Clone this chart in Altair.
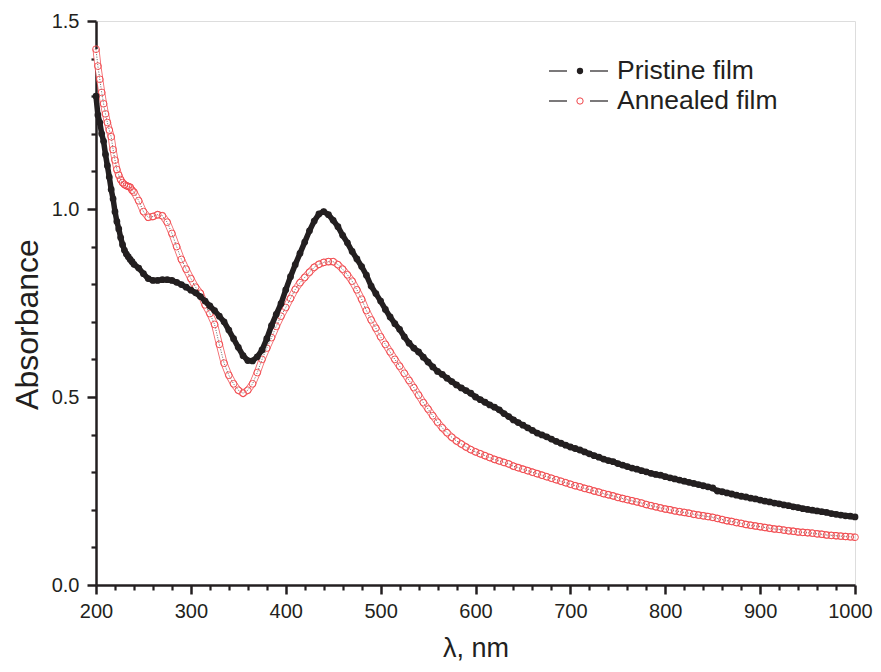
import altair as alt
import pandas as pd

# ---------------- data ----------------
wl_pristine = [200, 202, 204, 206, 208, 210, 212, 214, 216, 218, 220, 222, 224, 226, 228, 230, 232, 234, 236, 238,
               240, 245, 250, 255, 260, 265, 270, 275, 280, 285, 290, 295, 300, 305, 310, 315, 320, 325, 330, 335,
               340, 345, 350, 355, 360, 365, 370, 375, 380, 385, 390, 395, 400, 405, 410, 415, 420, 425, 430, 435,
               440, 445, 450, 455, 460, 465, 470, 475, 480, 485, 490, 495, 500, 505, 510, 515, 520, 525, 530, 535,
               540, 545, 550, 555, 560, 565, 570, 575, 580, 585, 590, 595, 600, 605, 610, 615, 620, 625, 630, 635,
               640, 645, 650, 655, 660, 665, 670, 675, 680, 685, 690, 695, 700, 705, 710, 715, 720, 725, 730, 735,
               740, 745, 750, 755, 760, 765, 770, 775, 780, 785, 790, 795, 800, 805, 810, 815, 820, 825, 830, 835,
               840, 845, 850, 855, 860, 865, 870, 875, 880, 885, 890, 895, 900, 905, 910, 915, 920, 925, 930, 935,
               940, 945, 950, 955, 960, 965, 970, 975, 980, 985, 990, 995, 1000]
abs_pristine = [1.300, 1.250, 1.230, 1.200, 1.180, 1.145, 1.115, 1.085, 1.052, 1.027, 0.993, 0.967, 0.947, 0.924,
                0.905, 0.890, 0.880, 0.873, 0.866, 0.860,
                0.853, 0.843, 0.828, 0.815, 0.810, 0.810, 0.812, 0.812, 0.810, 0.805, 0.799, 0.792, 0.784, 0.777,
                0.767, 0.755, 0.742, 0.730, 0.715, 0.700,
                0.678, 0.655, 0.632, 0.610, 0.597, 0.596, 0.607, 0.625, 0.655, 0.690, 0.720, 0.748, 0.785, 0.820,
                0.852, 0.882, 0.912, 0.942, 0.968, 0.987,
                0.993, 0.985, 0.970, 0.953, 0.930, 0.910, 0.887, 0.867, 0.847, 0.824, 0.795, 0.775, 0.755, 0.733,
                0.713, 0.695, 0.680, 0.660, 0.643, 0.630,
                0.620, 0.606, 0.593, 0.580, 0.568, 0.560, 0.550, 0.541, 0.532, 0.524, 0.517, 0.510, 0.500, 0.493,
                0.486, 0.479, 0.473, 0.466, 0.456, 0.448,
                0.439, 0.432, 0.425, 0.418, 0.411, 0.404, 0.399, 0.394, 0.388, 0.382, 0.377, 0.372, 0.367, 0.363,
                0.359, 0.354, 0.349, 0.344, 0.340, 0.335,
                0.331, 0.328, 0.323, 0.319, 0.315, 0.311, 0.308, 0.304, 0.301, 0.297, 0.294, 0.292, 0.288, 0.285,
                0.282, 0.279, 0.276, 0.273, 0.270, 0.267,
                0.264, 0.261, 0.258, 0.250, 0.248, 0.245, 0.242, 0.239, 0.236, 0.234, 0.231, 0.229, 0.226, 0.223,
                0.221, 0.218, 0.216, 0.213, 0.211, 0.208,
                0.206, 0.203, 0.201, 0.199, 0.197, 0.195, 0.193, 0.190, 0.188, 0.186, 0.184, 0.183, 0.181]

wl_annealed = wl_pristine
abs_annealed = [1.425, 1.380, 1.345, 1.310, 1.280, 1.253, 1.230, 1.210, 1.192, 1.158, 1.130, 1.105, 1.090, 1.078,
                1.070, 1.065, 1.062, 1.060, 1.058, 1.050,
                1.045, 1.022, 0.993, 0.978, 0.980, 0.985, 0.982, 0.965, 0.935, 0.900, 0.866, 0.840, 0.815, 0.792,
                0.776, 0.745, 0.722, 0.693, 0.640, 0.590,
                0.558, 0.535, 0.518, 0.510, 0.518, 0.535, 0.565, 0.600, 0.630, 0.658, 0.688, 0.715, 0.738, 0.762,
                0.786, 0.804, 0.818, 0.832, 0.845, 0.853,
                0.858, 0.860, 0.860, 0.852, 0.840, 0.825, 0.808, 0.785, 0.760, 0.730, 0.705, 0.683, 0.660, 0.640,
                0.620, 0.600, 0.582, 0.563, 0.544, 0.525,
                0.505, 0.485, 0.468, 0.450, 0.433, 0.418, 0.405, 0.393, 0.383, 0.375, 0.367, 0.360, 0.354, 0.349,
                0.344, 0.339, 0.334, 0.330, 0.326, 0.322,
                0.316, 0.312, 0.308, 0.304, 0.300, 0.296, 0.292, 0.288, 0.284, 0.280, 0.276, 0.272, 0.268, 0.264,
                0.261, 0.257, 0.254, 0.250, 0.247, 0.243,
                0.240, 0.237, 0.233, 0.230, 0.227, 0.224, 0.221, 0.218, 0.214, 0.211, 0.208, 0.205, 0.202, 0.200,
                0.197, 0.195, 0.193, 0.191, 0.188, 0.186,
                0.184, 0.182, 0.180, 0.177, 0.174, 0.171, 0.169, 0.166, 0.164, 0.161, 0.159, 0.157, 0.155, 0.153,
                0.151, 0.149, 0.148, 0.146, 0.144, 0.143,
                0.141, 0.140, 0.139, 0.138, 0.136, 0.135, 0.133, 0.132, 0.131, 0.130, 0.129, 0.128, 0.127]

series_names = ["Pristine film", "Annealed film"]
x_major = [200, 300, 400, 500, 600, 700, 800, 900, 1000]
x_minor = [220, 240, 260, 280, 320, 340, 360, 380, 420, 440, 460, 480, 520, 540, 560, 580,
           620, 640, 660, 680, 720, 740, 760, 780, 820, 840, 860, 880, 920, 940, 960, 980]
y_major = [0.0, 0.5, 1.0, 1.5]
y_minor = [0.1, 0.2, 0.3, 0.4, 0.6, 0.7, 0.8, 0.9, 1.1, 1.2, 1.3, 1.4]

# ---------------- styling ----------------
INK = "#231f20"
RED = "#f0464b"
FONT = "Liberation Sans"

df_p = pd.DataFrame({"wl": wl_pristine, "A": abs_pristine})
df_a = pd.DataFrame({"wl": wl_annealed, "A": abs_annealed})

xs = alt.Scale(domain=[200, 1000], nice=False, zero=False)
ys = alt.Scale(domain=[0, 1.5], nice=False, zero=False)

x_major_axis = alt.Axis(orient="bottom", values=x_major, format="d", grid=False, labelFlush=False,
                        domainColor=INK, domainWidth=2.5, tickColor=INK, tickWidth=2.5, tickSize=9,
                        labelFont=FONT, labelFontSize=20, labelColor=INK, labelPadding=7,
                        labelOffset={"condition": {"test": "datum.value == 1000", "value": -5}, "value": 0},
                        title="λ, nm", titleFont=FONT, titleFontSize=27, titleFontWeight="normal",
                        titleColor=INK, titleBaseline="alphabetic", titleY=71)
y_major_axis = alt.Axis(orient="left", values=y_major, format=".1f", grid=False, labelFlush=False,
                        domainColor=INK, domainWidth=2.5, tickColor=INK, tickWidth=2.5, tickSize=9,
                        labelFont=FONT, labelFontSize=20, labelColor=INK, labelPadding=8,
                        title="Absorbance", titleFont=FONT, titleFontSize=32, titleFontWeight="normal",
                        titleColor=INK, titleBaseline="alphabetic", titleX=-59, titleY=303)

x_minor_axis = alt.Axis(orient="bottom", values=x_minor, grid=False, labels=False, domain=False,
                        tickColor=INK, tickWidth=2.2, tickSize=5)
y_minor_axis = alt.Axis(orient="left", values=y_minor, grid=False, labels=False, domain=False,
                        tickColor=INK, tickWidth=2.2, tickSize=5)

X = alt.X("wl:Q", scale=xs, axis=None)
Y = alt.Y("A:Q", scale=ys, axis=None)

axes_major = alt.Chart(df_p).mark_point(opacity=0).encode(
    x=alt.X("wl:Q", scale=xs, axis=x_major_axis),
    y=alt.Y("A:Q", scale=ys, axis=y_major_axis),
)
axes_minor = alt.Chart(df_p).mark_point(opacity=0).encode(
    x=alt.X("wl:Q", scale=xs, axis=x_minor_axis, title=None),
    y=alt.Y("A:Q", scale=ys, axis=y_minor_axis, title=None),
)

# annealed: ring band look + open circles + thin black connecting line
band_a_outer = alt.Chart(df_a).mark_line(color=RED, strokeWidth=7, opacity=0.8).encode(x=X, y=Y)
band_a_inner = alt.Chart(df_a).mark_line(color="white", strokeWidth=5.2).encode(x=X, y=Y)
line_a = alt.Chart(df_a).mark_line(color=INK, strokeWidth=0.7, strokeDash=[1, 1.5]).encode(x=X, y=Y)
pts_a = alt.Chart(df_a).mark_point(shape="circle", filled=False, color=RED, size=46, strokeWidth=0.9,
                                   opacity=1).encode(x=X, y=Y)

# pristine: solid dots forming a thick line
thick_p = alt.Chart(df_p).mark_line(color=INK, strokeWidth=5.5).encode(x=X, y=Y)
pts_p = alt.Chart(df_p).mark_point(shape="circle", filled=True, color=INK, size=46, opacity=1).encode(x=X, y=Y)

# ---------------- legend (manual) ----------------
leg_layers = []
for i, (name, filled, col) in enumerate([(series_names[0], True, INK), (series_names[1], False, RED)]):
    yy = 50 + 30 * i
    d = pd.DataFrame({"name": [name]})
    leg_layers.append(alt.Chart(d).mark_rule(color=INK, strokeWidth=1.2).encode(
        x=alt.value(453), x2=alt.value(471), y=alt.value(yy)))
    leg_layers.append(alt.Chart(d).mark_rule(color=INK, strokeWidth=1.2).encode(
        x=alt.value(494), x2=alt.value(512), y=alt.value(yy)))
    leg_layers.append(alt.Chart(d).mark_point(shape="circle", filled=filled, color=col, size=40,
                                              strokeWidth=1, opacity=1).encode(
        x=alt.value(484), y=alt.value(yy)))
    leg_layers.append(alt.Chart(d).mark_text(align="left", baseline="middle", font=FONT, fontSize=26.5,
                                             color=INK).encode(
        x=alt.value(521), y=alt.value(yy), text="name:N"))

chart = alt.layer(axes_minor, axes_major, band_a_outer, band_a_inner, line_a, pts_a, thick_p, pts_p,
                  *leg_layers).resolve_axis(
    x="independent", y="independent"
).properties(
    width=759, height=564,
    padding={"left": 88, "top": 13, "right": 18, "bottom": 78},
    autosize=alt.AutoSizeParams(type="none"),
).configure_view(stroke="#a8a8a8", strokeWidth=1).configure(background="white")

chart.save("out.html", embed_options={"renderer": "svg", "actions": False})
